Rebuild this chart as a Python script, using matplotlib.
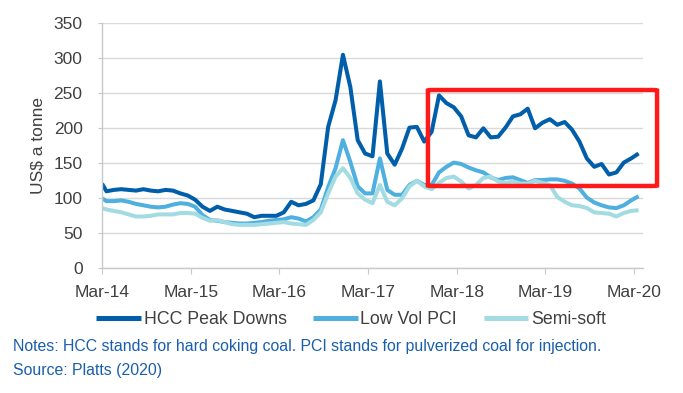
import matplotlib
matplotlib.use("Agg")
import matplotlib.pyplot as plt
from matplotlib.patches import FancyBboxPatch
import numpy as np

plt.rcParams['font.family'] = ['Liberation Sans', 'DejaVu Sans']

# ---- data ----
tick_labels = ["Mar-14", "Mar-15", "Mar-16", "Mar-17", "Mar-18", "Mar-19", "Mar-20"]
tick_months = [0, 12, 24, 36, 48, 60, 72]
# month offsets from Mar-14 of each observation
month_pos = np.r_[0.0, np.arange(73) + 0.6]

hcc = [121,
       110, 112, 113, 112, 111, 113, 111, 110, 112, 111, 107, 104, 98,
       88, 82, 88, 84, 82, 80, 78, 73, 75, 75, 75, 80,
       95, 90, 92, 97, 120, 202, 240, 305, 259, 183, 164, 160,
       267, 164, 148, 171, 201, 202, 181, 195, 247, 236, 230, 217,
       190, 187, 200, 187, 188, 201, 217, 220, 228, 200, 208, 213,
       205, 209, 198, 181, 157, 145, 149, 134, 137, 151, 157, 164]
pci = [100,
       96, 96, 97, 95, 92, 90, 88, 87, 88, 91, 93, 92, 88,
       76, 69, 68, 66, 65, 64, 64, 65, 66, 68, 69, 70,
       73, 71, 67, 73, 84, 116, 143, 183, 152, 117, 107, 107,
       157, 112, 105, 105, 119, 125, 119, 119, 137, 145, 151, 149,
       144, 140, 137, 130, 126, 129, 130, 126, 122, 126, 126, 127,
       127, 125, 121, 114, 101, 94, 90, 87, 86, 90, 97, 103]
semi = [86,
        84, 82, 80, 77, 74, 74, 75, 77, 77, 77, 79, 79, 78,
        72, 68, 69, 66, 63, 62, 62, 62, 63, 64, 65, 66,
        64, 63, 62, 69, 80, 107, 131, 143, 129, 107, 98, 93,
        119, 95, 90, 100, 117, 125, 117, 113, 122, 129, 131, 124,
        114, 119, 129, 131, 124, 122, 124, 121, 121, 125, 122, 119,
        102, 95, 90, 89, 86, 80, 79, 78, 74, 79, 82, 83]
series_names = ["HCC Peak Downs", "Low Vol PCI", "Semi-soft"]

# highlight box (months, US$/t)
box_x = [44.1, 75.1]
box_y = [117.6, 254.7]

colors = ["#005EAA", "#4FB0E0", "#A3DBE3"]

fig = plt.figure(figsize=(6.83, 3.93), dpi=100)
ax = fig.add_axes([102/683, 1-268.3/393, (643-102)/683, (268.3-23.3)/393])

for vals, name, c in zip([hcc, pci, semi], series_names, colors):
    ax.plot(month_pos, vals, color=c, lw=2.9, label=name, solid_joinstyle='round', solid_capstyle='butt')

ax.set_xlim(0, 73.2)
ax.set_ylim(0, 350)
ax.set_yticks(np.arange(0, 351, 50))
ax.set_xticks(tick_months)
ax.set_xticklabels(tick_labels)
ax.grid(axis='y', color='#D9D9D9', lw=1.0)
ax.set_axisbelow(True)
for s in ['top', 'right']:
    ax.spines[s].set_visible(False)
for s in ['left', 'bottom']:
    ax.spines[s].set_color('#C8C8C8')
    ax.spines[s].set_linewidth(1.0)
ax.tick_params(axis='x', length=4, color='#C8C8C8', pad=8, labelsize=12.5, labelcolor='#404040')
ax.tick_params(axis='y', length=3, color='#C8C8C8', pad=11, labelsize=12.5, labelcolor='#404040')
ax.set_ylabel("US$ a tonne", fontsize=12.5, color='#404040', labelpad=6)

rect = FancyBboxPatch((box_x[0], box_y[0]), box_x[1]-box_x[0], box_y[1]-box_y[0],
                      boxstyle="round,pad=0,rounding_size=0.6", transform=ax.transData,
                      fill=False, edgecolor='#FF1A1A', lw=3.2, clip_on=False, zorder=5)
ax.add_patch(rect)

leg = fig.legend(loc='center', bbox_to_anchor=(351/683, 1-320/393), ncol=3, frameon=False,
                 fontsize=12.8, handlelength=2.5, handletextpad=0.15, columnspacing=1.5,
                 labelcolor='#404040')
for l in leg.get_lines():
    l.set_linewidth(3.6)

fig.text(13/683, 1-346/393, "Notes: HCC stands for hard coking coal. PCI stands for pulverized coal for injection.",
         fontsize=11.4, color='#1A5FAD', va='center', ha='left')
fig.text(13/683, 1-371/393, "Source: Platts (2020)", fontsize=11.4, color='#1A5FAD', va='center', ha='left')

fig.savefig("out.png", dpi=100)
